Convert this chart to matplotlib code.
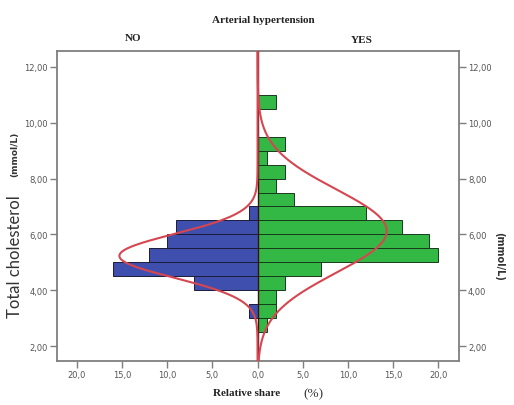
import matplotlib
matplotlib.use('Agg')
import matplotlib.pyplot as plt
import numpy as np

# cholesterol bins (lower edge, mmol/L), 0.5 wide
bin_lower = [2.5, 3.0, 3.5, 4.0, 4.5, 5.0, 5.5, 6.0, 6.5, 7.0, 7.5, 8.0, 8.5, 9.0, 9.5, 10.0, 10.5]
# relative share (%) per bin
share_no = [0, 1, 0, 7, 16, 12, 10, 9, 1, 0, 0, 0, 0, 0, 0, 0, 0]
share_yes = [1, 2, 2, 3, 7, 20, 19, 16, 12, 4, 2, 3, 1, 3, 0, 0, 2]

# fitted normal curves: (mean, sd, peak %)
fit_no = (5.23, 0.78, 15.3)
fit_yes = (6.12, 1.50, 14.3)

x_ticks = [-20, -15, -10, -5, 0, 5, 10, 15, 20]
y_ticks = [2, 4, 6, 8, 10, 12]

BLUE = '#3f4fae'
GREEN = '#34b845'
RED = '#d64650'
FRAME = '#7f7f7f'

fig = plt.figure(figsize=(5.14, 4.06), dpi=100)
ax = fig.add_axes([0.111, 0.108, 0.782, 0.764])

width = 0.5
ax.barh(bin_lower, [-v for v in share_no], height=width, align='edge',
        color=BLUE, edgecolor='#1c1c3a', linewidth=0.7)
ax.barh(bin_lower, share_yes, height=width, align='edge',
        color=GREEN, edgecolor='#173a1c', linewidth=0.7)

ax.axvline(0, color='#3a1010', linewidth=1.0, zorder=3)

yy = np.linspace(1.4, 12.6, 400)
for (mu, sd, peak), sign in ((fit_no, -1), (fit_yes, 1)):
    ax.plot(sign * peak * np.exp(-(yy - mu) ** 2 / (2 * sd ** 2)), yy,
            color=RED, linewidth=1.5, zorder=4)

ax.set_xlim(-22.2, 22.3)
ax.set_ylim(1.46, 12.57)

ax.set_xticks(x_ticks)
ax.set_xticklabels([f'{abs(v):.1f}'.replace('.', ',') for v in x_ticks])
ax.set_yticks(y_ticks)
ax.set_yticklabels([f'{v:.2f}'.replace('.', ',') for v in y_ticks])
ax.tick_params(axis='both', direction='out', length=5, width=1, color=FRAME,
               labelsize=6, labelcolor='#555555', pad=1.5)
ax.tick_params(axis='y', right=True, labelright=True)

for s in ax.spines.values():
    s.set_color(FRAME)
    s.set_linewidth(1.3)

serif = dict(family='Liberation Serif', fontweight='bold', color='#222222')
fig.text(0.512, 0.950, 'Arterial hypertension', ha='center', va='center', fontsize=8, **serif)
fig.text(0.259, 0.906, 'NO', ha='center', va='center', fontsize=8, **serif)
fig.text(0.704, 0.900, 'YES', ha='center', va='center', fontsize=8, **serif)
fig.text(0.48, 0.032, 'Relative share', ha='center', va='center', fontsize=8, **serif)
fig.text(0.609, 0.030, '(%)', ha='center', va='center', fontsize=9.5, family='Liberation Serif', color='#333333')

fig.text(0.029, 0.368, 'Total cholesterol', rotation=90, ha='center', va='center',
         fontsize=12, family='Lato', color='#333333')
fig.text(0.028, 0.619, '(mmol/L)', rotation=90, ha='center', va='center',
         fontsize=6.5, fontweight='bold', color='#333333')
fig.text(0.971, 0.369, '(mmol/L)', rotation=270, ha='center', va='center',
         fontsize=7, fontweight='bold', color='#333333')

fig.savefig('out.png', dpi=100)
